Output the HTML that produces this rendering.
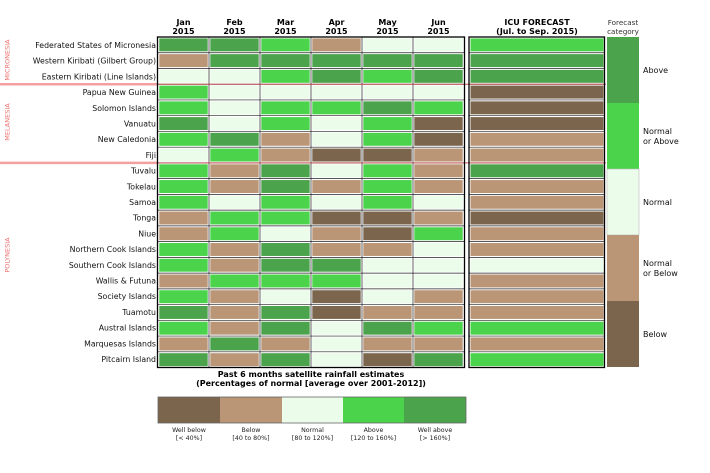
<!DOCTYPE html>
<html><head><meta charset="utf-8"><style>
html,body{margin:0;padding:0;background:#fff;}
svg{display:block;font-family:"DejaVu Sans","Liberation Sans",sans-serif;}
</style></head><body>
<svg id="s" width="710" height="473" viewBox="0 0 710 473" xmlns="http://www.w3.org/2000/svg">
<g id="cells"></g>
<line x1="0" y1="84.2" x2="158" y2="84.2" stroke="#f4a0a0" stroke-width="2.5"/>
<line x1="0" y1="162.9" x2="158" y2="162.9" stroke="#f4a0a0" stroke-width="2.5"/>
<line x1="158" y1="84.2" x2="606" y2="84.2" stroke="#c05050" stroke-width="1"/>
<line x1="158" y1="162.9" x2="606" y2="162.9" stroke="#c05050" stroke-width="1"/>
<rect x="157.5" y="37" width="307" height="330.5" fill="none" stroke="#000" stroke-width="1.3"/>
<rect x="469" y="37" width="135.5" height="330.5" fill="none" stroke="#000" stroke-width="1.3"/>
<g font-size="8" font-weight="bold" text-anchor="middle" fill="#000">
<text x="183.5" y="25">Jan</text><text x="183.5" y="34">2015</text>
<text x="234.5" y="25">Feb</text><text x="234.5" y="34">2015</text>
<text x="285.5" y="25">Mar</text><text x="285.5" y="34">2015</text>
<text x="336.5" y="25">Apr</text><text x="336.5" y="34">2015</text>
<text x="387.5" y="25">May</text><text x="387.5" y="34">2015</text>
<text x="438.5" y="25">Jun</text><text x="438.5" y="34">2015</text>
<text x="537" y="25">ICU FORECAST</text><text x="537" y="34">(Jul. to Sep. 2015)</text>
<text x="311" y="377">Past 6 months satellite rainfall estimates</text>
<text x="311" y="386">(Percentages of normal [average over 2001-2012])</text>
</g>
<g font-size="7.2" fill="#333" text-anchor="middle"><text x="623" y="25">Forecast</text><text x="623" y="34">category</text></g>
<g font-size="7.8" fill="#111" text-anchor="end">
<text x="156" y="48">Federated States of Micronesia</text>
<text x="156" y="63.7">Western Kiribati (Gilbert Group)</text>
<text x="156" y="79.4">Eastern Kiribati (Line Islands)</text>
<text x="156" y="95.1">Papua New Guinea</text>
<text x="156" y="110.8">Solomon Islands</text>
<text x="156" y="126.5">Vanuatu</text>
<text x="156" y="142.2">New Caledonia</text>
<text x="156" y="157.9">Fiji</text>
<text x="156" y="173.6">Tuvalu</text>
<text x="156" y="189.3">Tokelau</text>
<text x="156" y="205">Samoa</text>
<text x="156" y="220.7">Tonga</text>
<text x="156" y="236.4">Niue</text>
<text x="156" y="252.1">Northern Cook Islands</text>
<text x="156" y="267.8">Southern Cook Islands</text>
<text x="156" y="283.5">Wallis &amp; Futuna</text>
<text x="156" y="299.2">Society Islands</text>
<text x="156" y="314.9">Tuamotu</text>
<text x="156" y="330.6">Austral Islands</text>
<text x="156" y="346.3">Marquesas Islands</text>
<text x="156" y="362">Pitcairn Island</text>
</g>
<g font-size="6.5" fill="#f07070" text-anchor="middle">
<text transform="translate(9.5,60) rotate(-90)">MICRONESIA</text>
<text transform="translate(9.5,122) rotate(-90)">MELANESIA</text>
<text transform="translate(9.5,255) rotate(-90)">POLYNESIA</text>
</g>
<rect x="607" y="37" width="32" height="66" fill="#4ba34b"/>
<rect x="607" y="103" width="32" height="66" fill="#4bd44b"/>
<rect x="607" y="169" width="32" height="66" fill="#ebfcea" stroke="#bbb" stroke-width="0.6"/>
<rect x="607" y="235" width="32" height="66" fill="#bb9676"/>
<rect x="607" y="301" width="32" height="66" fill="#7c654d"/>
<g font-size="8" fill="#111">
<text x="643" y="73">Above</text>
<text x="643" y="134">Normal</text><text x="643" y="144">or Above</text>
<text x="643" y="205">Normal</text>
<text x="643" y="266">Normal</text><text x="643" y="276">or Below</text>
<text x="643" y="337">Below</text>
</g>
<rect x="158" y="397" width="62" height="26" fill="#7c654d"/>
<rect x="220" y="397" width="62" height="26" fill="#bb9676"/>
<rect x="282" y="397" width="61" height="26" fill="#ebfcea"/>
<rect x="343" y="397" width="61" height="26" fill="#4bd44b"/>
<rect x="404" y="397" width="62" height="26" fill="#4ba34b"/>
<rect x="158" y="397" width="308" height="26" fill="none" stroke="#666" stroke-width="0.8"/>
<g font-size="6.3" fill="#222" text-anchor="middle">
<text x="189" y="432">Well below</text><text x="189" y="440">[&lt; 40%]</text>
<text x="251" y="432">Below</text><text x="251" y="440">[40 to 80%]</text>
<text x="312.5" y="432">Normal</text><text x="312.5" y="440">[80 to 120%]</text>
<text x="373.5" y="432">Above</text><text x="373.5" y="440">[120 to 160%]</text>
<text x="435" y="432">Well above</text><text x="435" y="440">[&gt; 160%]</text>
</g>
</svg>
<script>
var C={W:"#7c654d",B:"#bb9676",N:"#ebfcea",A:"#4bd44b",V:"#4ba34b"};
var rows=["VVABNNA","BVVVVVV","NNAVAVV","ANNNNNW","ANAAVAW","VNANAWW","AVBNAWB","NABWWBB","ABVNABV","ABVBABB","ANANANB","BAAWWBW","BANBWAB","ABVBBNB","ABVVNNN","BAAANNB","ABNWNBB","VBVWBBB","ABVNVAA","BVBNBBB","VBVNWVA"];
var g=document.getElementById("cells"),ns="http://www.w3.org/2000/svg";
var xs=[158,209,260,311,362,413,464];var h=15.74;
function r(x,y,w,hh,f){var e=document.createElementNS(ns,"rect");e.setAttribute("x",x);e.setAttribute("y",y);e.setAttribute("width",w);e.setAttribute("height",hh);e.setAttribute("fill",f);g.appendChild(e);}
function l(x1,y1,x2,y2){var e=document.createElementNS(ns,"line");e.setAttribute("x1",x1);e.setAttribute("y1",y1);e.setAttribute("x2",x2);e.setAttribute("y2",y2);e.setAttribute("stroke","#222");e.setAttribute("stroke-width","0.7");g.appendChild(e);}
r(158,37,307,330,"#fff");r(469,37,135,330,"#fff");
for(var i=0;i<21;i++){var y=37+i*h;
 for(var j=0;j<6;j++){r(xs[j]+1.3,y+1.4,48.4,h-2.8,C[rows[i][j]]);}
 r(470.5,y+1.4,133,h-2.8,C[rows[i][6]]);
 if(i>0){l(158,y,465,y);l(469,y,605,y);}}
for(var j=1;j<6;j++)l(xs[j],37,xs[j],367.5);
</script>
</body></html>
